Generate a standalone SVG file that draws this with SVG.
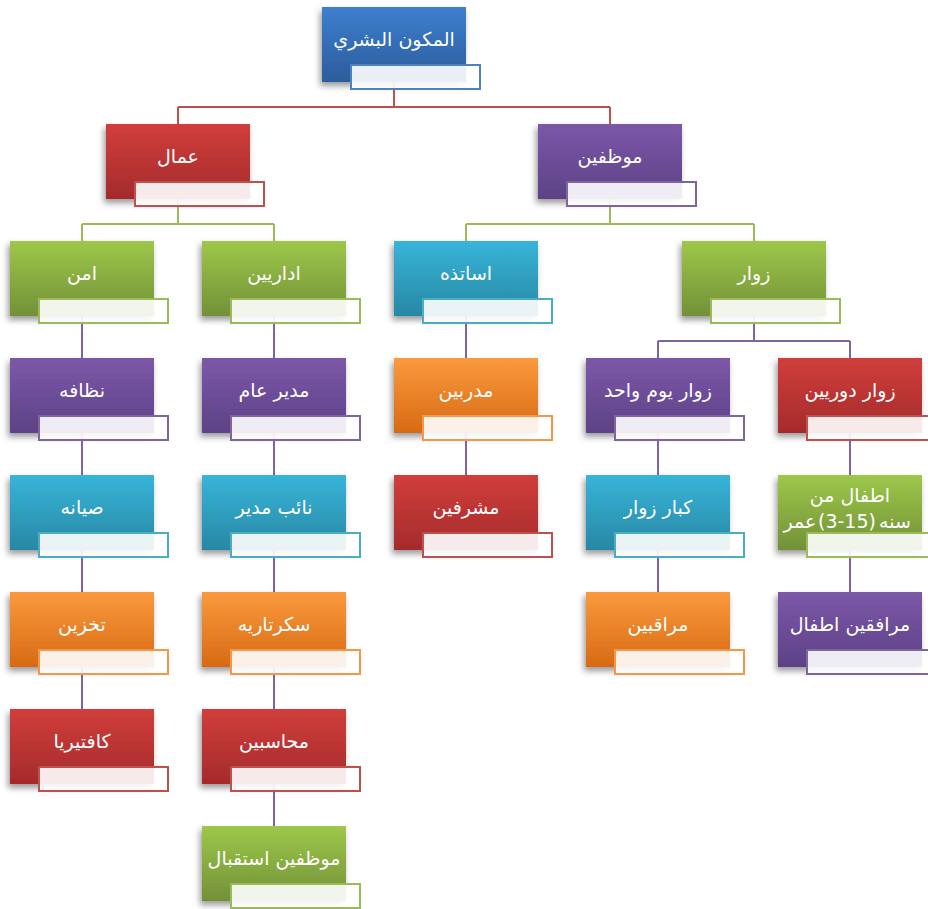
<svg xmlns="http://www.w3.org/2000/svg" width="928" height="909" viewBox="0 0 928 909">
<defs>
  <linearGradient id="gBlue" x1="0" y1="0" x2="0" y2="1"><stop offset="0" stop-color="#3d7fcf"/><stop offset="1" stop-color="#2c5c9c"/></linearGradient>
  <linearGradient id="gRed" x1="0" y1="0" x2="0" y2="1"><stop offset="0" stop-color="#d13e3b"/><stop offset="1" stop-color="#a42b2b"/></linearGradient>
  <linearGradient id="gGreen" x1="0" y1="0" x2="0" y2="1"><stop offset="0" stop-color="#9dc84a"/><stop offset="1" stop-color="#739038"/></linearGradient>
  <linearGradient id="gPurple" x1="0" y1="0" x2="0" y2="1"><stop offset="0" stop-color="#7d57a8"/><stop offset="1" stop-color="#5c4286"/></linearGradient>
  <linearGradient id="gTeal" x1="0" y1="0" x2="0" y2="1"><stop offset="0" stop-color="#37b5d9"/><stop offset="1" stop-color="#2887a3"/></linearGradient>
  <linearGradient id="gOrange" x1="0" y1="0" x2="0" y2="1"><stop offset="0" stop-color="#fa9a3d"/><stop offset="1" stop-color="#d76a14"/></linearGradient>
  <filter id="sh" x="-20%" y="-20%" width="140%" height="150%">
    <feDropShadow dx="-2" dy="4" stdDeviation="3" flood-color="#000" flood-opacity="0.4"/>
  </filter>
</defs>
<style>
  .box { filter: url(#sh); }
  .sub { fill: #ffffff; fill-opacity: 0.9; stroke-width: 2; }
  .lbl { font-family: "DejaVu Sans", "Liberation Sans", sans-serif; font-size: 19px; fill: #ffffff; text-anchor: middle; }
  .blue .box { fill: url(#gBlue); } .blue .sub { stroke: #4f81bd; }
  .red .box { fill: url(#gRed); } .red .sub { stroke: #c0504d; }
  .green .box { fill: url(#gGreen); } .green .sub { stroke: #9bbb59; }
  .purple .box { fill: url(#gPurple); } .purple .sub { stroke: #8064a2; }
  .teal .box { fill: url(#gTeal); } .teal .sub { stroke: #4bacc6; }
  .orange .box { fill: url(#gOrange); } .orange .sub { stroke: #f79646; }
  .con { fill: none; stroke-width: 2; }
</style>
<g id="connectors">
  <path class="con" stroke="#c0504d" d="M394,44 V107 M178,107 H610 M178,107 V124 M610,107 V124"/>
  <path class="con" stroke="#9bbb59" d="M178,160 V224 M82,224 H274 M82,224 V241 M274,224 V241 M610,160 V224 M466,224 H754 M466,224 V241 M754,224 V241"/>
  <path class="con" stroke="#8064a2" d="M754,280 V341 M658,341 H850 M658,341 V358 M850,341 V358"/>
  <path class="con" stroke="#8064a2" d="M82,280 V709 M274,280 V826 M466,280 V475 M658,396 V592 M850,396 V592"/>
</g>
<g id="n-root" class="blue"><rect class="box" x="322" y="7" width="144" height="75"/><rect class="sub" x="351" y="65" width="129" height="24"/><text class="lbl" x="394" y="46">المكون البشري</text></g>
<g id="n-workers" class="red"><rect class="box" x="106" y="124" width="144" height="75"/><rect class="sub" x="135" y="182" width="129" height="24"/><text class="lbl" x="178" y="163">عمال</text></g>
<g id="n-employees" class="purple"><rect class="box" x="538" y="124" width="144" height="75"/><rect class="sub" x="567" y="182" width="129" height="24"/><text class="lbl" x="610" y="163">موظفين</text></g>
<g id="n-security" class="green"><rect class="box" x="10" y="241" width="144" height="75"/><rect class="sub" x="39" y="299" width="129" height="24"/><text class="lbl" x="82" y="280">امن</text></g>
<g id="n-admin" class="green"><rect class="box" x="202" y="241" width="144" height="75"/><rect class="sub" x="231" y="299" width="129" height="24"/><text class="lbl" x="274" y="280">اداريين</text></g>
<g id="n-teachers" class="teal"><rect class="box" x="394" y="241" width="144" height="75"/><rect class="sub" x="423" y="299" width="129" height="24"/><text class="lbl" x="466" y="280">اساتذه</text></g>
<g id="n-visitors" class="green"><rect class="box" x="682" y="241" width="144" height="75"/><rect class="sub" x="711" y="299" width="129" height="24"/><text class="lbl" x="754" y="280">زوار</text></g>
<g id="n-cleaning" class="purple"><rect class="box" x="10" y="358" width="144" height="75"/><rect class="sub" x="39" y="416" width="129" height="24"/><text class="lbl" x="82" y="397">نظافه</text></g>
<g id="n-gm" class="purple"><rect class="box" x="202" y="358" width="144" height="75"/><rect class="sub" x="231" y="416" width="129" height="24"/><text class="lbl" x="274" y="397">مدير عام</text></g>
<g id="n-trainers" class="orange"><rect class="box" x="394" y="358" width="144" height="75"/><rect class="sub" x="423" y="416" width="129" height="24"/><text class="lbl" x="466" y="397">مدربين</text></g>
<g id="n-oneday" class="purple"><rect class="box" x="586" y="358" width="144" height="75"/><rect class="sub" x="615" y="416" width="129" height="24"/><text class="lbl" x="658" y="397">زوار يوم واحد</text></g>
<g id="n-periodic" class="red"><rect class="box" x="778" y="358" width="144" height="75"/><rect class="sub" x="807" y="416" width="129" height="24"/><text class="lbl" x="850" y="397">زوار دوريين</text></g>
<g id="n-maint" class="teal"><rect class="box" x="10" y="475" width="144" height="75"/><rect class="sub" x="39" y="533" width="129" height="24"/><text class="lbl" x="82" y="514">صيانه</text></g>
<g id="n-deputy" class="teal"><rect class="box" x="202" y="475" width="144" height="75"/><rect class="sub" x="231" y="533" width="129" height="24"/><text class="lbl" x="274" y="514">نائب مدير</text></g>
<g id="n-supervisors" class="red"><rect class="box" x="394" y="475" width="144" height="75"/><rect class="sub" x="423" y="533" width="129" height="24"/><text class="lbl" x="466" y="514">مشرفين</text></g>
<g id="n-vip" class="teal"><rect class="box" x="586" y="475" width="144" height="75"/><rect class="sub" x="615" y="533" width="129" height="24"/><text class="lbl" x="658" y="514">كبار زوار</text></g>
<g id="n-children" class="green"><rect class="box" x="778" y="475" width="144" height="75"/><rect class="sub" x="807" y="533" width="129" height="24"/><text class="lbl" x="850" y="502">اطفال من</text><text class="lbl" x="800" y="528">عمر</text><text class="lbl" x="847" y="528">(3-15)</text><text class="lbl" x="895" y="528">سنه</text></g>
<g id="n-storage" class="orange"><rect class="box" x="10" y="592" width="144" height="75"/><rect class="sub" x="39" y="650" width="129" height="24"/><text class="lbl" x="82" y="631">تخزين</text></g>
<g id="n-secretary" class="orange"><rect class="box" x="202" y="592" width="144" height="75"/><rect class="sub" x="231" y="650" width="129" height="24"/><text class="lbl" x="274" y="631">سكرتاريه</text></g>
<g id="n-monitors" class="orange"><rect class="box" x="586" y="592" width="144" height="75"/><rect class="sub" x="615" y="650" width="129" height="24"/><text class="lbl" x="658" y="631">مراقبين</text></g>
<g id="n-escorts" class="purple"><rect class="box" x="778" y="592" width="144" height="75"/><rect class="sub" x="807" y="650" width="129" height="24"/><text class="lbl" x="850" y="631">مرافقين اطفال</text></g>
<g id="n-cafeteria" class="red"><rect class="box" x="10" y="709" width="144" height="75"/><rect class="sub" x="39" y="767" width="129" height="24"/><text class="lbl" x="82" y="748">كافتيريا</text></g>
<g id="n-accountants" class="red"><rect class="box" x="202" y="709" width="144" height="75"/><rect class="sub" x="231" y="767" width="129" height="24"/><text class="lbl" x="274" y="748">محاسبين</text></g>
<g id="n-reception" class="green"><rect class="box" x="202" y="826" width="144" height="75"/><rect class="sub" x="231" y="884" width="129" height="24"/><text class="lbl" x="274" y="865">موظفين استقبال</text></g>
</svg>
